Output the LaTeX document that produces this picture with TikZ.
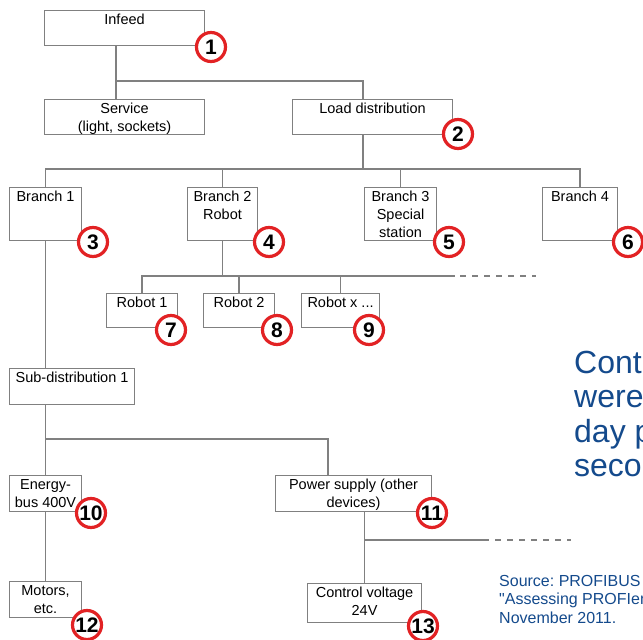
\documentclass[tikz,border=0pt]{standalone}
\usepackage{fontspec}
\setmainfont{Liberation Sans}
\usetikzlibrary{calc}
\definecolor{wiregray}{RGB}{128,128,128}
\definecolor{markred}{RGB}{226,34,36}
\definecolor{slideblue}{RGB}{20,74,140}
\newcommand{\boxlabel}[3]{\parbox[c][#2pt][t]{#1pt}{\centering\rule{0pt}{14pt}#3}}
\frenchspacing

\begin{document}
\begin{tikzpicture}[x=1pt, y=-1pt,
    box/.style={draw=wiregray, line width=1.1pt, fill=white, inner sep=0pt, anchor=north west,
                font=\fontsize{14.5}{18}\selectfont},
    wire/.style={draw=wiregray, line width=1.3pt},
    stub/.style={wire, dash pattern=on 6pt off 6pt},
    marker/.style={circle, draw=markred, line width=3.2pt, fill=white, inner sep=0pt,
                   minimum size=29pt, font=\fontsize{21}{21}\selectfont\bfseries},
    blurb/.style={anchor=north west, inner sep=0pt, align=left, text=slideblue}]
        \useasboundingbox (0,0) rectangle (643,640);
        \clip (0,0) rectangle (643,640);

        % boxes
        \node[box] (infeed)   at (44,10)   {\boxlabel{160}{35}{Infeed}};
        \node[box] (service)  at (44,99)   {\boxlabel{160}{35}{Service\\(light, sockets)}};
        \node[box] (loaddist) at (292,99)  {\boxlabel{160}{35}{Load distribution}};
        \node[box] (branch1)  at (9,187)   {\boxlabel{72}{53}{Branch 1}};
        \node[box] (branch2)  at (187,187) {\boxlabel{70}{53}{Branch 2\\Robot}};
        \node[box] (branch3)  at (364,187) {\boxlabel{72}{53}{Branch 3\\Special\\station}};
        \node[box] (branch4)  at (542,187) {\boxlabel{75}{53}{Branch 4}};
        \node[box] (robot1)   at (106,293) {\boxlabel{71}{34}{Robot 1}};
        \node[box] (robot2)   at (203,293) {\boxlabel{71}{34}{Robot 2}};
        \node[box] (robotx)   at (301,293) {\boxlabel{78}{34}{Robot x ...}};
        \node[box] (subdist)  at (9,368)   {\boxlabel{125}{36}{Sub-distribution 1}};
        \node[box] (energy)   at (9,475)   {\boxlabel{72}{36}{Energy-\\bus 400V}};
        \node[box] (power)    at (275,475) {\boxlabel{156}{36}{Power supply (other\\devices)}};
        \node[box] (motors)   at (9,581)   {\boxlabel{72}{36}{Motors,\\etc.}};
        \node[box] (control)  at (307,583) {\boxlabel{114}{39}{Control voltage\\24V}};

        % wiring
        \coordinate (bus1)  at (116,81);
        \coordinate (bus1r) at (363,81);
        \coordinate (bus2)  at (363,169);
        \draw[wire] (infeed.south -| bus1) -- (service.north -| bus1);
        \draw[wire] (bus1) -| (bus1r |- loaddist.north);
        \draw[wire] (bus1r |- loaddist.south) -- (bus2);
        \draw[wire] (branch1.north) |- (bus2) -| (branch4.north);
        \draw[wire] (branch2.north) -- (branch2.north |- bus2);
        \draw[wire] (branch3.north) -- (branch3.north |- bus2);

        \coordinate (bus3)     at (222,276);
        \coordinate (bus3end)  at (455,276);
        \coordinate (bus3gap)  at (460,276);
        \coordinate (bus3dash) at (536,276);
        \draw[wire] (branch2.south) -- (branch2.south |- bus3);
        \draw[wire] (robot1.north) |- (bus3end);
        \draw[wire] (robot2.north) -- (robot2.north |- bus3);
        \draw[wire] (robotx.north) -- (robotx.north |- bus3);
        \draw[stub] (bus3gap) -- (bus3dash);

        \coordinate (bus4)  at (45,439);
        \coordinate (bus4r) at (328,439);
        \draw[wire] (branch1.south) -- (branch1.south |- subdist.north);
        \draw[wire] (energy.north |- subdist.south) -- (energy.north);
        \draw[wire] (bus4) -| (bus4r |- power.north);
        \draw[wire] (energy.south) -- (motors.north);

        \coordinate (bus5)     at (364,540);
        \coordinate (bus5end)  at (489,540);
        \coordinate (bus5gap)  at (495,540);
        \coordinate (bus5dash) at (571,540);
        \draw[wire] (control.north |- power.south) -- (control.north);
        \draw[wire] (bus5) -- (bus5end);
        \draw[stub] (bus5gap) -- (bus5dash);

        % numbered markers
        \node[marker] (m1)  at (211,47)  {1};
        \node[marker] (m2)  at (458,134) {2};
        \node[marker] (m3)  at (93,242)  {3};
        \node[marker] (m4)  at (269,242) {4};
        \node[marker] (m5)  at (449,242) {5};
        \node[marker] (m6)  at (628,242) {6};
        \node[marker] (m7)  at (171,330) {7};
        \node[marker] (m8)  at (277,330) {8};
        \node[marker] (m9)  at (369,330) {9};
        \node[marker] (m10) at (91,513)  {10};
        \node[marker] (m11) at (432,513) {11};
        \node[marker] (m12) at (87,625)  {12};
        \node[marker] (m13) at (423,626) {13};

        % slide text
        \node[blurb, font=\fontsize{32}{34.5}\selectfont] (remark) at (574,350) {Conti\\were\\day p\\secon};
        \node[blurb, font=\fontsize{16}{18.5}\selectfont] (source) at (499,575)
            {Source: PROFIBUS\\\textquotedbl Assessing PROFIen\\November 2011.};
\end{tikzpicture}
\end{document}
